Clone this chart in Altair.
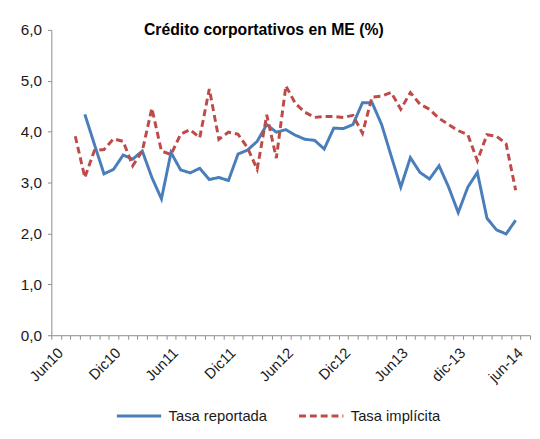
import json
import altair as alt
import pandas as pd

# ---- data (monthly, index 0 = Jun10 ... 48 = Jun14) ----
tick_labels = ["Jun10", "Dic10", "Jun11", "Dic11", "Jun12", "Dic12", "Jun13", "dic-13", "jun-14"]
series_names = ["Tasa reportada", "Tasa implícita"]

reportada_start = 3
reportada = [4.34, 3.75, 3.17, 3.26, 3.54, 3.46, 3.62, 3.10, 2.68, 3.59, 3.25, 3.19,
             3.28, 3.06, 3.10, 3.04, 3.56, 3.64, 3.81, 4.14, 3.99, 4.04, 3.93, 3.85,
             3.83, 3.66, 4.07, 4.06, 4.14, 4.57, 4.57, 4.14, 3.52, 2.91, 3.49, 3.20,
             3.07, 3.33, 2.91, 2.41, 2.91, 3.20, 2.30, 2.07, 1.99, 2.26]

implicita_start = 2
implicita = [3.91, 3.10, 3.63, 3.65, 3.86, 3.81, 3.33, 3.62, 4.46, 3.62, 3.55, 3.95,
             4.04, 3.88, 4.84, 3.85, 3.99, 3.95, 3.68, 3.26, 4.33, 3.48, 4.90, 4.55,
             4.38, 4.28, 4.30, 4.30, 4.28, 4.32, 3.97, 4.68, 4.70, 4.77, 4.44, 4.77,
             4.54, 4.44, 4.26, 4.14, 4.02, 3.94, 3.43, 3.94, 3.91, 3.76, 2.85]

rows = []
for i, v in enumerate(reportada):
    rows.append({"serie": series_names[0], "k": reportada_start + i, "value": v})
for i, v in enumerate(implicita):
    rows.append({"serie": series_names[1], "k": implicita_start + i, "value": v})
df = pd.DataFrame(rows)

n_cats = 50
label_expr = (
    f"(datum.value % 6 == 0 && datum.value <= 48) ? {json.dumps(tick_labels)}[datum.value / 6] : ''"
)

FONT = "Liberation Sans"
TEXT = "#1a1a1a"
AXIS = "#8c8c8c"

chart = (
    alt.Chart(df)
    .transform_calculate(pos="datum.k + 0.5")
    .mark_line(strokeWidth=3)
    .encode(
        x=alt.X(
            "pos:Q",
            scale=alt.Scale(domain=[0, n_cats], nice=False, zero=False),
            axis=alt.Axis(
                title=None,
                values=list(range(n_cats + 1)),
                labelExpr=label_expr,
                labelAngle=-45,
                labelAlign="right",
                labelBaseline="middle",
                labelOffset=9,
                labelPadding=11,
                labelOverlap=False,
                labelFontSize=15,
                grid=False,
                tickSize=4,
            ),
        ),
        y=alt.Y(
            "value:Q",
            scale=alt.Scale(domain=[0, 6], nice=False),
            axis=alt.Axis(
                title=None,
                values=[0, 1, 2, 3, 4, 5, 6],
                labelExpr="replace(format(datum.value, '.1f'), '.', ',')",
                grid=False,
                tickSize=4,
                labelPadding=6,
                labelFontSize=15.5,
            ),
        ),
        color=alt.Color(
            "serie:N",
            scale=alt.Scale(domain=series_names, range=["#4a7ebb", "#be4b48"]),
            title=None,
        ),
        strokeDash=alt.StrokeDash(
            "serie:N",
            scale=alt.Scale(domain=series_names, range=[[1, 0], [7, 4]]),
            title=None,
        ),
    )
    .properties(
        width=486,
        height=310,
        title=alt.TitleParams(
            "Crédito corportativos en ME (%)",
            anchor="start",
            frame="group",
            dx=94,
            dy=23,
            offset=0,
            baseline="middle",
            fontSize=16,
            fontWeight="bold",
            font=FONT,
            color="#000000",
        ),
        autosize=alt.AutoSizeParams(type="none"),
        padding={"left": 44, "top": 19, "right": 2, "bottom": 94},
    )
    .configure_view(stroke=None)
    .configure_axis(
        labelFont=FONT,
        labelColor=TEXT,
        domainColor=AXIS,
        tickColor=AXIS,
        domainWidth=1,
        tickWidth=1,
    )
    .configure_legend(
        orient="none",
        legendX=65,
        legendY=368,
        direction="horizontal",
        symbolType="stroke",
        symbolSize=2025,
        symbolStrokeWidth=3,
        labelFont=FONT,
        labelFontSize=15,
        labelColor=TEXT,
        labelOffset=6,
        columnPadding=25,
    )
)

chart.save("out.html", embed_options={"renderer": "svg", "actions": False})
